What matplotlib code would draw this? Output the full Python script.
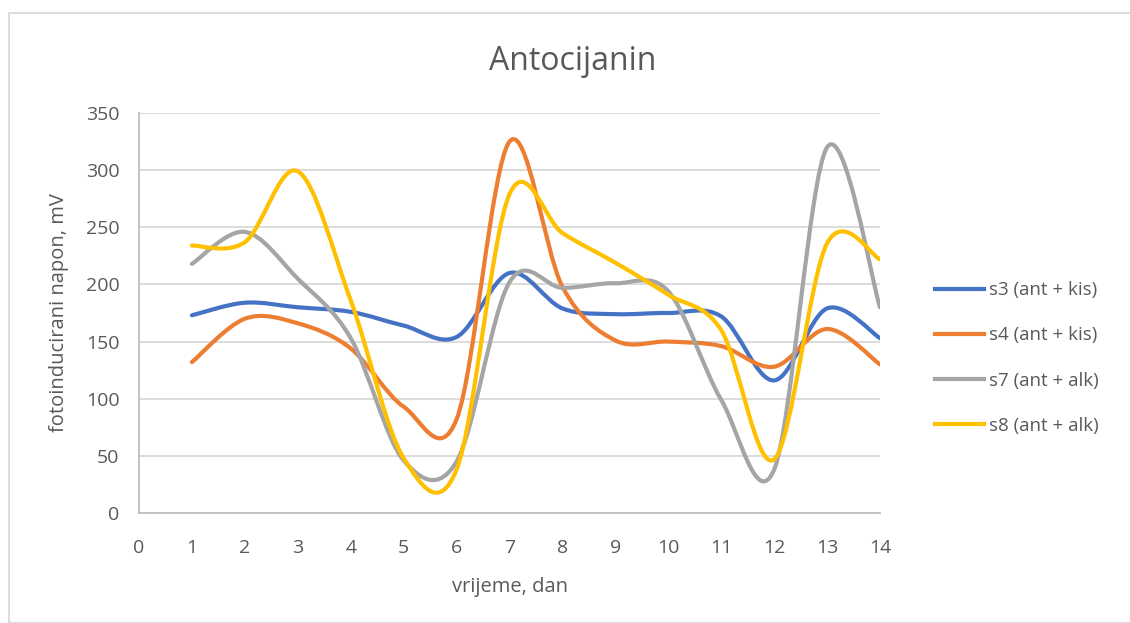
import numpy as np
import matplotlib.pyplot as plt
from matplotlib.path import Path
from matplotlib.patches import PathPatch, Rectangle
from matplotlib.lines import Line2D

plt.rcParams['font.family'] = ['Open Sans', 'DejaVu Sans']

days = [1, 2, 3, 4, 5, 6, 7, 8, 9, 10, 11, 12, 13, 14]
s3 = [173, 184, 180, 176, 164, 154, 210, 179, 174, 175, 172, 116, 179, 153]
s4 = [132, 170, 166, 144, 93, 82, 325, 198, 151, 150, 146, 128, 161, 130]
s7 = [218, 246, 205, 153, 46, 45, 202, 197, 201, 194, 99, 38, 320, 180]
s8 = [234, 237, 299, 186, 48, 38, 279, 245, 219, 191, 160, 47, 236, 222]
labels = ['s3 (ant + kis)', 's4 (ant + kis)', 's7 (ant + alk)', 's8 (ant + alk)']
colors = ['#4472C4', '#ED7D31', '#A5A5A5', '#FFC000']


def smooth_path(xs, ys):
    # Excel-style smoothed line: cubic bezier through the points
    pts = np.column_stack([xs, ys]).astype(float)
    n = len(pts)
    verts = [pts[0]]
    codes = [Path.MOVETO]
    for i in range(n - 1):
        p0 = pts[max(i - 1, 0)]
        p1 = pts[i]
        p2 = pts[i + 1]
        p3 = pts[min(i + 2, n - 1)]
        c1 = p1 + (p2 - p0) / 6
        c2 = p2 - (p3 - p1) / 6
        verts += [c1, c2, p2]
        codes += [Path.CURVE4] * 3
    return Path(verts, codes)


fig = plt.figure(figsize=(11.3, 6.23), dpi=100)
ax = fig.add_axes([139 / 1130, 1 - 513 / 623, (880 - 139) / 1130, 400 / 623])

for ys, col in zip([s3, s4, s7, s8], colors):
    ax.add_patch(PathPatch(smooth_path(days, ys), facecolor='none', edgecolor=col,
                           lw=3, capstyle='round', joinstyle='round'))

ax.set_xlim(0, 14)
ax.set_ylim(0, 350)
ax.set_xticks(range(0, 15))
ax.set_yticks(range(0, 351, 50))
ax.grid(axis='y', color='#D9D9D9', lw=1.3)
ax.set_axisbelow(True)
for s in ['top', 'right']:
    ax.spines[s].set_visible(False)
ax.spines['bottom'].set_color('#BFBFBF')
ax.spines['left'].set_color('#BFBFBF')
ax.spines['bottom'].set_linewidth(1.3)
ax.spines['left'].set_linewidth(1.3)
ax.tick_params(length=0, labelsize=14, colors='#595959')
ax.tick_params(axis='x', pad=19)
ax.tick_params(axis='y', pad=14)

ax.set_xlabel('vrijeme, dan', fontsize=14.5, color='#595959', labelpad=14)
ax.set_ylabel('fotoinducirani napon, mV', fontsize=14.5, color='#595959', labelpad=12)
fig.text(573 / 1130, 1 - 61 / 623, 'Antocijanin', fontsize=23, color='#595959',
         ha='center', va='center')

handles = [Line2D([0], [0], color=c, lw=3) for c in colors]
fig.legend(handles, labels, loc='center left', bbox_to_anchor=(918 / 1130, 1 - 358 / 623),
           frameon=False, fontsize=13.5, labelcolor='#595959', handlelength=2.6,
           handletextpad=0.3, labelspacing=1.45)

fig.add_artist(Rectangle((9 / 1130, 0), 1.0, 1 - 13 / 623, transform=fig.transFigure,
                         fill=False, edgecolor='#D9D9D9', lw=1.3))

fig.savefig('out.png', dpi=100)
